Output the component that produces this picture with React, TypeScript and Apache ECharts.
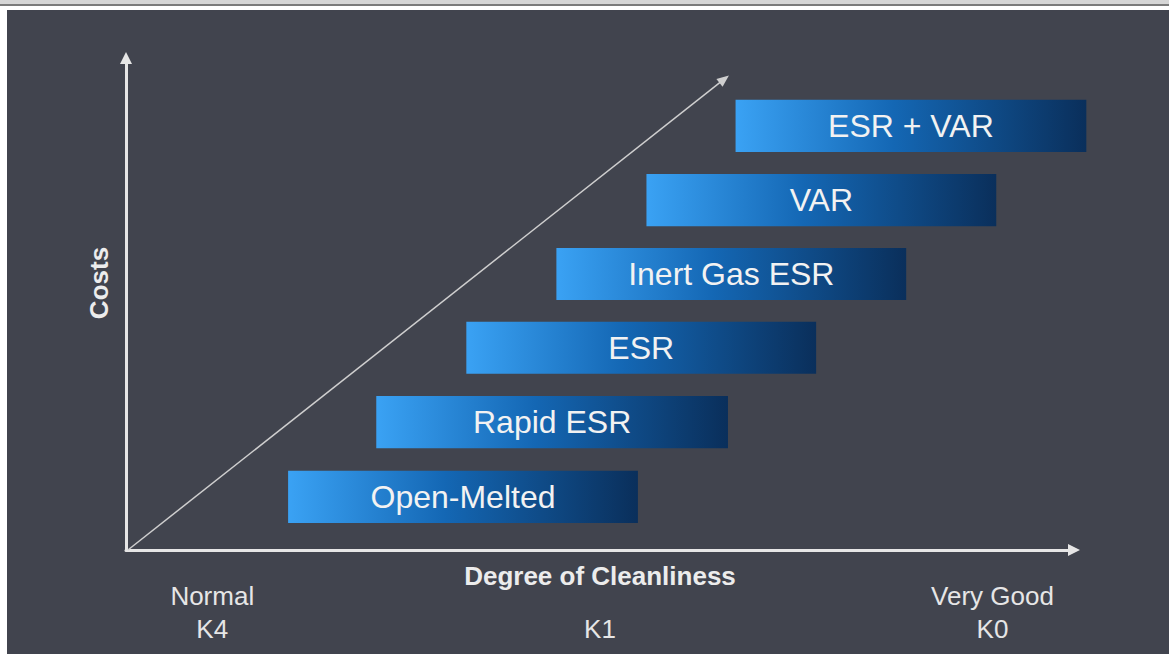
import React, { useEffect, useRef } from "react";
import * as echarts from "echarts";

// Processes (bars), from lowest to highest cost
const processes = ["Open-Melted", "Rapid ESR", "ESR", "Inert Gas ESR", "VAR", "ESR + VAR"];
const cleanlinessStart = [17.1, 26.4, 35.9, 45.4, 54.9, 64.3];
const cleanlinessEnd = [54.0, 63.5, 72.8, 82.3, 91.8, 101.3];
const costLevel = [10.8, 26.0, 41.1, 56.1, 71.1, 86.2];
const barThickness = 10.6;

// Cleanliness scale tick labels
const tickPositions = [9.1, 50.0, 91.4];
const tickTopLabels = ["Normal", "", "Very Good"];
const tickBottomLabels = ["K4", "K1", "K0"];

// Trend arrow
const trendStart = [0.2, 0];
const trendEnd = [63.1, 95.7];

const FONT = "'Liberation Sans', Arial, Helvetica, sans-serif";

export default function App() {
  const ref = useRef<HTMLDivElement>(null);

  useEffect(() => {
    if (!ref.current) return;
    const chart = echarts.init(ref.current, undefined, { renderer: "svg" });

    const barData = processes.map((name, i) => [
      cleanlinessStart[i],
      cleanlinessEnd[i],
      costLevel[i],
      name,
    ]);
    const tickData = tickPositions.map((x, i) => [x, tickTopLabels[i], tickBottomLabels[i]]);

    const option: any = {
      animation: false,
      backgroundColor: "transparent",
      grid: { left: 126, right: 95, top: 58, bottom: 104 },
      xAxis: {
        type: "value",
        min: 0,
        max: 100,
        splitLine: { show: false },
        axisTick: { show: false },
        axisLabel: { show: false },
        axisLine: {
          show: true,
          symbol: ["none", "triangle"],
          symbolSize: [12, 12],
          lineStyle: { color: "#e6e6e6", width: 3 },
        },
        name: "Degree of Cleanliness",
        nameLocation: "middle",
        nameGap: 13,
        nameTextStyle: {
          color: "#ececec",
          fontSize: 26,
          fontWeight: "bold",
          fontFamily: FONT,
        },
      },
      yAxis: {
        type: "value",
        min: 0,
        max: 100,
        splitLine: { show: false },
        axisTick: { show: false },
        axisLabel: { show: false },
        axisLine: {
          show: true,
          symbol: ["none", "triangle"],
          symbolSize: [12, 12],
          lineStyle: { color: "#e6e6e6", width: 3 },
        },
        name: "Costs",
        nameLocation: "middle",
        nameRotate: 90,
        nameGap: 14,
        nameTextStyle: {
          color: "#ececec",
          fontSize: 26,
          fontWeight: "bold",
          fontFamily: FONT,
          padding: [0, 0, 0, 42],
        },
      },
      series: [
        {
          type: "line",
          data: [trendStart, trendEnd],
          symbol: "none",
          lineStyle: { width: 0, opacity: 0 },
          silent: true,
          markLine: {
            silent: true,
            symbol: ["none", "triangle"],
            symbolSize: [10, 12],
            label: { show: false },
            lineStyle: { color: "#cfcfcf", width: 1.5, type: "solid" },
            data: [[{ coord: trendStart }, { coord: trendEnd }]],
          },
        },
        {
          type: "custom",
          clip: false,
          data: barData,
          renderItem: (params: any, api: any) => {
            const x0 = api.value(0);
            const x1 = api.value(1);
            const y = api.value(2);
            const name = barData[params.dataIndex][3] as string;
            const p0 = api.coord([x0, y]);
            const p1 = api.coord([x1, y]);
            const h = api.size([0, barThickness])[1];
            return {
              type: "group",
              children: [
                {
                  type: "rect",
                  shape: { x: p0[0], y: p0[1] - h / 2, width: p1[0] - p0[0], height: h },
                  style: {
                    fill: new echarts.graphic.LinearGradient(0, 0, 1, 0, [
                      { offset: 0, color: "#3aa2f4" },
                      { offset: 0.45, color: "#1467b4" },
                      { offset: 1, color: "#0a2f5b" },
                    ]),
                  },
                },
                {
                  type: "text",
                  x: (p0[0] + p1[0]) / 2,
                  y: p0[1],
                  style: {
                    text: name,
                    fill: "#f2f2f2",
                    fontSize: 32,
                    fontFamily: FONT,
                    align: "center",
                    verticalAlign: "middle",
                  },
                },
              ],
            };
          },
        },
        {
          type: "custom",
          clip: false,
          data: tickData,
          renderItem: (params: any, api: any) => {
            const d = tickData[params.dataIndex];
            const p = api.coord([d[0], 0]);
            return {
              type: "group",
              children: [
                {
                  type: "text",
                  x: p[0],
                  y: p[1] + 46,
                  style: {
                    text: d[1],
                    fill: "#e6e6e6",
                    fontSize: 26,
                    fontFamily: FONT,
                    align: "center",
                    verticalAlign: "middle",
                  },
                },
                {
                  type: "text",
                  x: p[0],
                  y: p[1] + 79,
                  style: {
                    text: d[2],
                    fill: "#e6e6e6",
                    fontSize: 26,
                    fontFamily: FONT,
                    align: "center",
                    verticalAlign: "middle",
                  },
                },
              ],
            };
          },
        },
      ],
    };

    chart.setOption(option);
    return () => chart.dispose();
  }, []);

  return (
    <div
      style={{
        position: "absolute",
        left: 0,
        top: 0,
        width: 1169,
        height: 654,
        background: "#ffffff",
        overflow: "hidden",
      }}
    >
      <div style={{ position: "absolute", left: 0, top: 0, width: 1169, height: 4, background: "#d6d6d6" }} />
      <div style={{ position: "absolute", left: 0, top: 4, width: 1169, height: 2, background: "#7b7b7b" }} />
      <div style={{ position: "absolute", left: 7, top: 10, width: 1162, height: 644, background: "#41444e" }} />
      <div ref={ref} style={{ position: "absolute", left: 0, top: 0, width: 1169, height: 654 }} />
    </div>
  );
}
